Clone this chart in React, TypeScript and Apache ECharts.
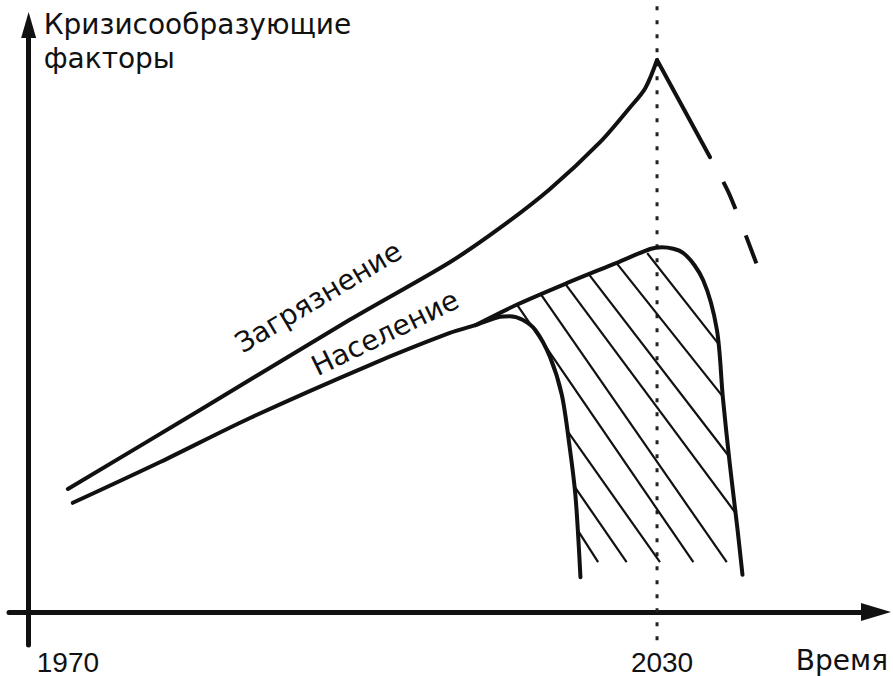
import React, { useEffect, useRef } from "react";
import * as echarts from "echarts";

// ---------- data (years on the time axis, arbitrary units on the value axis) ----------
const ORIGIN_YEAR = 1966; // year at which the value axis crosses the time axis
const tickYears = [1970, 2030];
const markerYear = 2030;

const pollutionRiseYears = [1970.0, 1983.5, 1998.7, 2008.9, 2014.0, 2019.1, 2024.2, 2027.2, 2028.8, 2030.0];
const pollutionRiseValues = [20.5, 33.7, 48.7, 58.3, 64.0, 70.5, 78.3, 84.0, 87.3, 92.0];
const pollutionFallYears = [2030.0, 2035.4];
const pollutionFallValues = [92.0, 75.8];
const pollutionForecastYears = [2035.4, 2037.4, 2040.3];
const pollutionForecastValues = [75.8, 69.5, 57.3];

const populationYears = [1970.5, 1979.4, 1988.5, 2000.8, 2008.9, 2011.5, 2014.0, 2015.0, 2016.3, 2017.6, 2019.1, 2020.3, 2021.1, 2021.7, 2022.2];
const populationValues = [18.2, 25.0, 32.3, 41.2, 46.5, 47.8, 49.2, 49.3, 48.7, 47.0, 42.5, 36.2, 27.5, 19.2, 5.8];
const populationLateYears = [2011.5, 2015.7, 2020.8, 2025.9, 2029.3, 2030.5, 2032.7, 2034.7, 2036.1, 2036.7, 2037.4, 2038.2, 2038.7];
const populationLateValues = [47.8, 51.2, 54.8, 58.2, 60.5, 60.8, 59.8, 55.3, 47.0, 35.8, 24.8, 13.7, 6.2];

const hatchStartYears = [2029.0, 2025.9, 2023.0, 2020.6, 2018.1, 2015.7, 2020.9, 2021.6, 2021.9];
const hatchStartValues = [59.8, 58.1, 56.4, 54.8, 53.1, 51.3, 30.1, 20.9, 13.7];
const hatchEndYears = [2036.2, 2036.7, 2037.3, 2038.0, 2037.1, 2033.7, 2030.3, 2026.9, 2024.0];
const hatchEndValues = [44.8, 35.9, 26.0, 16.5, 8.3, 8.3, 8.3, 8.3, 8.3];

const curveLabels = ["Загрязнение", "Население"];
const curveLabelYears = [1995.5, 2002.3];
const curveLabelValues = [52.5, 46.5];
const curveLabelAngles = [31, 26];

const markerSpanValues = [-4.7, 101];

const X_TITLE = "Время";
const Y_TITLE = "Кризисообразующие\nфакторы";

const CYR_FONT = "DejaVu Sans";
const NUM_FONT = "Liberation Sans";
const INK = "#111111";

export default function App() {
  const ref = useRef<HTMLDivElement>(null);

  useEffect(() => {
    if (!ref.current) return;
    const chart = echarts.init(ref.current, undefined, { renderer: "svg" });

    const toX = (year: number) => Math.round((year - ORIGIN_YEAR) * 1000) / 1000;
    const pts = (ys: number[], vs: number[]) => ys.map((y, i) => [toX(y), vs[i]]);

    const curve = (name: string, data: number[][], extra: any = {}) => ({
      type: "line",
      name,
      data,
      symbol: "none",
      silent: true,
      smooth: 0.3,
      lineStyle: { color: INK, width: 4, cap: "round", join: "round" },
      z: 3,
      ...extra,
    });

    chart.setOption({
      animation: false,
      backgroundColor: "#ffffff",
      grid: {
        left: 9,
        right: 17,
        top: 25,
        bottom: 31,
        containLabel: false,
        outerBoundsMode: "none",
      },
      xAxis: {
        type: "value",
        min: -2,
        max: 86.3,
        axisLine: {
          onZero: true,
          symbol: ["none", "triangle"],
          symbolSize: [18, 30],
          lineStyle: { color: INK, width: 5 },
        },
        axisTick: { show: false },
        splitLine: { show: false },
        axisLabel: {
          customValues: tickYears.map(toX),
          margin: 3,
          fontSize: 28,
          fontFamily: NUM_FONT,
          color: INK,
          formatter: (v: number) => {
            const yr = Math.round(v + ORIGIN_YEAR);
            return yr === markerYear ? `{s|${yr}}` : `{n|${yr}}`;
          },
          rich: {
            s: { fontSize: 28, fontFamily: NUM_FONT, color: INK, padding: [0, 0, 0, 10] },
            n: { fontSize: 28, fontFamily: NUM_FONT, color: INK },
          },
        },
        name: X_TITLE,
        nameLocation: "end",
        nameGap: 12,
        nameTextStyle: {
          fontSize: 28,
          fontFamily: CYR_FONT,
          color: INK,
          align: "right",
          verticalAlign: "top",
          padding: [35, 0, 0, 0],
        },
      },
      yAxis: {
        type: "value",
        min: -5.5,
        max: 97.83,
        axisLine: {
          onZero: true,
          symbol: ["none", "triangle"],
          symbolSize: [15, 26],
          lineStyle: { color: INK, width: 5 },
        },
        axisTick: { show: false },
        splitLine: { show: false },
        axisLabel: { show: false },
        name: Y_TITLE,
        nameLocation: "end",
        nameGap: 18,
        nameTextStyle: {
          fontSize: 28,
          fontFamily: CYR_FONT,
          color: INK,
          align: "left",
          verticalAlign: "top",
          lineHeight: 34,
          padding: [0, 0, 0, 15],
        },
      },
      series: [
        {
          type: "line",
          name: "marker",
          data: markerSpanValues.map((v) => [toX(markerYear), v]),
          symbol: "none",
          silent: true,
          clip: false,
          lineStyle: { color: "#222", width: 3, type: [4, 10], cap: "butt" },
          z: 1,
        },
        {
          type: "lines",
          coordinateSystem: "cartesian2d",
          silent: true,
          z: 2,
          lineStyle: { color: INK, width: 2.2, opacity: 1, curveness: 0 },
          data: hatchStartYears.map((y, i) => ({
            coords: [
              [toX(y), hatchStartValues[i]],
              [toX(hatchEndYears[i]), hatchEndValues[i]],
            ],
          })),
        },
        curve("Загрязнение", pts(pollutionRiseYears, pollutionRiseValues)),
        curve("Загрязнение спад", pts(pollutionFallYears, pollutionFallValues), { smooth: false }),
        curve("Загрязнение прогноз", pts(pollutionForecastYears, pollutionForecastValues), {
          smooth: 0.3,
          lineStyle: { color: INK, width: 4, type: [30, 28], dashOffset: 30, cap: "butt" },
        }),
        curve("Население", pts(populationYears, populationValues)),
        curve("Население 2030", pts(populationLateYears, populationLateValues)),
        {
          type: "scatter",
          name: "labels",
          silent: true,
          symbol: "circle",
          symbolSize: 1,
          itemStyle: { color: "rgba(0,0,0,0)", opacity: 1 },
          z: 4,
          label: {
            show: true,
            position: "inside",
            formatter: "{b}",
            fontSize: 28,
            fontFamily: CYR_FONT,
            color: INK,
            opacity: 1,
            align: "center",
            verticalAlign: "middle",
          },
          data: curveLabels.map((name, i) => ({
            name,
            value: [toX(curveLabelYears[i]), curveLabelValues[i]],
            label: { rotate: curveLabelAngles[i] },
          })),
        },
      ],
    });

    return () => chart.dispose();
  }, []);

  return (
    <div
      ref={ref}
      style={{ position: "fixed", left: 0, top: 0, width: 893, height: 676, background: "#fff" }}
    />
  );
}
